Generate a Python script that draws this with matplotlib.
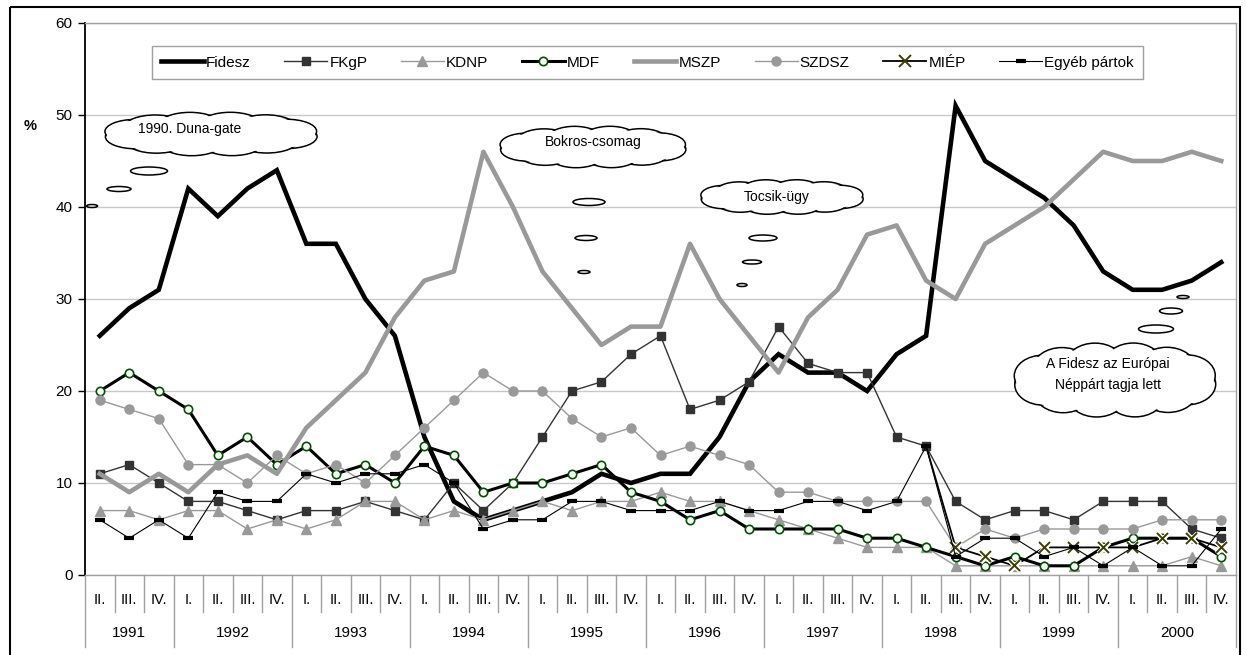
import numpy as np
import matplotlib.pyplot as plt
import matplotlib.patheffects as pe
from matplotlib.patches import Ellipse, Rectangle
from matplotlib.lines import Line2D

plt.rcParams['font.family'] = ['Liberation Sans', 'DejaVu Sans']

# Quarter labels and years (1991 II. - 2000 IV.)
quarters = ['II.', 'III.', 'IV.'] + ['I.', 'II.', 'III.', 'IV.'] * 9
years = ['1991', '1992', '1993', '1994', '1995', '1996', '1997', '1998', '1999', '2000']
year_len = [3, 4, 4, 4, 4, 4, 4, 4, 4, 4]

# Party support, %
fidesz = [26, 29, 31, 42, 39, 42, 44, 36, 36, 30, 26, 15, 8, 6, 7, 8, 9, 11, 10,
          11, 11, 15, 21, 24, 22, 22, 20, 24, 26, 51, 45, 43, 41, 38, 33, 31, 31, 32, 34]
fkgp = [11, 12, 10, 8, 8, 7, 6, 7, 7, 8, 7, 6, 10, 7, 10, 15, 20, 21, 24,
        26, 18, 19, 21, 27, 23, 22, 22, 15, 14, 8, 6, 7, 7, 6, 8, 8, 8, 5, 4]
kdnp = [7, 7, 6, 7, 7, 5, 6, 5, 6, 8, 8, 6, 7, 6, 7, 8, 7, 8, 8,
        9, 8, 8, 7, 6, 5, 4, 3, 3, 3, 1, 1, 1, 1, 1, 1, 1, 1, 2, 1]
mdf = [20, 22, 20, 18, 13, 15, 12, 14, 11, 12, 10, 14, 13, 9, 10, 10, 11, 12, 9,
       8, 6, 7, 5, 5, 5, 5, 4, 4, 3, 2, 1, 2, 1, 1, 3, 4, 4, 4, 2]
mszp = [11, 9, 11, 9, 12, 13, 11, 16, 19, 22, 28, 32, 33, 46, 40, 33, 29, 25, 27,
        27, 36, 30, 26, 22, 28, 31, 37, 38, 32, 30, 36, 38, 40, 43, 46, 45, 45, 46, 45]
szdsz = [19, 18, 17, 12, 12, 10, 13, 11, 12, 10, 13, 16, 19, 22, 20, 20, 17, 15, 16,
         13, 14, 13, 12, 9, 9, 8, 8, 8, 8, 3, 5, 4, 5, 5, 5, 5, 6, 6, 6]
miep_start = 28  # MIÉP measured separately from 1998 II.
miep = [14, 3, 2, 1, 3, 3, 3, 3, 4, 4, 3]
egyeb = [6, 4, 6, 4, 9, 8, 8, 11, 10, 11, 11, 12, 10, 5, 6, 6, 8, 8, 7,
         7, 7, 8, 7, 7, 8, 8, 7, 8, 14, 2, 4, 4, 2, 3, 1, 3, 1, 1, 5]

W, H = 1246, 655
fig = plt.figure(figsize=(W / 100, H / 100), dpi=100)
ax = fig.add_axes([85 / W, 80 / H, 1151 / W, 552 / H])

x = np.arange(len(quarters))
mx = np.arange(miep_start, miep_start + len(miep))

ax.plot(x, fidesz, color='black', lw=3.3, zorder=3, solid_joinstyle='miter')
ax.plot(x, fkgp, color='#333333', lw=1, marker='s', ms=6, mfc='#333333', mec='#333333', zorder=4)
ax.plot(x, kdnp, color='#999999', lw=1, marker='^', ms=6.5, mfc='#999999', mec='#999999', zorder=4)
ax.plot(x, mdf, color='black', lw=2.2, marker='o', ms=6, mfc='white', mec='#005000', mew=1.2, zorder=5)
ax.plot(x, mszp, color='#999999', lw=3.3, zorder=5)
ax.plot(x, szdsz, color='#999999', lw=1, marker='o', ms=6.5, mfc='#999999', mec='#999999', zorder=6)
halo = [pe.Stroke(linewidth=3.5, foreground='white'), pe.Normal()]
ax.plot(mx, miep, color='black', lw=1.3, zorder=7)
ax.plot(mx[1:], miep[1:], ls='none', marker='x', ms=8, mew=1.4, mec='#3d3d00', zorder=8, path_effects=halo)
ax.plot(x, egyeb, color='black', lw=0.8, marker='_', ms=7, mew=3, mec='black', zorder=9)

ax.set_xlim(-0.5, len(quarters) - 0.5)
ax.set_ylim(0, 60)
ax.set_yticks(range(0, 61, 10))
ax.set_xticks([])
ax.yaxis.grid(True, color='#c8c8c8', lw=1)
ax.set_axisbelow(True)
ax.tick_params(axis='y', direction='out', length=5, width=1, labelsize=11, pad=4)
ax.spines['left'].set_color('black')
ax.spines['left'].set_linewidth(1.3)
for s in ['top', 'right', 'bottom']:
    ax.spines[s].set_color('#a0a0a0')
    ax.spines[s].set_linewidth(1)

# two-level category axis
tr = ax.get_xaxis_transform()
for i, q in enumerate(quarters):
    ax.text(i, -0.045, q, transform=tr, ha='center', va='center', fontsize=10.5,
            family=['Liberation Sans Narrow', 'Liberation Sans'])
bounds = np.concatenate([[-0.5], np.cumsum(year_len) - 0.5])
for b in np.arange(0.5, len(quarters) - 1):
    if b not in bounds:
        ax.plot([b, b], [0, -0.067], transform=tr, color='#a0a0a0', lw=1, clip_on=False)
for b in bounds:
    ax.plot([b, b], [0, -0.13], transform=tr, color='#a0a0a0', lw=1, clip_on=False)
for k, yr in enumerate(years):
    ax.text((bounds[k] + bounds[k + 1]) / 2, -0.105, yr, transform=tr,
            ha='center', va='center', fontsize=11)

# legend
names = ['Fidesz', 'FKgP', 'KDNP', 'MDF', 'MSZP', 'SZDSZ', 'MIÉP', 'Egyéb pártok']
handles = ax.get_lines()[:6] + [
    Line2D([], [], color='black', lw=1.3, marker='x', ms=8, mew=1.4, mec='#3d3d00'),
    ax.get_lines()[8]]
leg = ax.legend(handles, names, loc='center', bbox_to_anchor=(0.4887, 0.9284), ncol=8,
                fancybox=False, edgecolor='#a0a0a0', fontsize=11, handlelength=2.8,
                handletextpad=0.15, columnspacing=2.2, borderpad=0.6, framealpha=1)
leg.get_frame().set_linewidth(1)

# overlay in pixel coordinates for clouds and frame
ov = fig.add_axes([0, 0, 1, 1])
ov.set_xlim(0, W)
ov.set_ylim(H, 0)
ov.axis('off')
ov.patch.set_alpha(0)


def cloud(cx, cy, w, h, n=12):
    ang = np.linspace(0, 2 * np.pi, n, endpoint=False) + 0.25
    bw, bh = w * 0.28, h * 0.55
    px = cx + (w - bw) / 2 * np.cos(ang)
    py = cy + (h - bh) / 2 * np.sin(ang)
    for a, b in zip(px, py):
        ov.add_patch(Ellipse((a, b), bw, bh, fc='white', ec='black', lw=1.1, zorder=5))
    for a, b in zip(px, py):
        ov.add_patch(Ellipse((a, b), bw - 2.6, bh - 2.6, fc='white', ec='none', zorder=6))
    ov.add_patch(Ellipse((cx, cy), w - bw * 0.6, h - bh * 0.6, fc='white', ec='none', zorder=6))


def bubbles(items):
    for a, b, w, h in items:
        ov.add_patch(Ellipse((a, b), w, h, fc='white', ec='black', lw=1.1, zorder=5))


cloud(211, 134, 217, 44)
ov.text(190, 129, '1990. Duna-gate', ha='center', va='center', fontsize=10, zorder=7)
bubbles([(149, 171, 37, 8), (119, 189, 24, 5), (92, 206, 11, 3)])

cloud(593, 147, 190, 42)
ov.text(593, 142, 'Bokros-csomag', ha='center', va='center', fontsize=10, zorder=7)
bubbles([(589, 202, 32, 7), (586, 238, 22, 5), (584, 272, 12, 3)])

cloud(782, 197, 166, 35)
ov.text(777, 197, 'Tocsik-ügy', ha='center', va='center', fontsize=10, zorder=7)
bubbles([(763, 238, 28, 6), (752, 262, 19, 4), (742, 285, 10, 3)])

cloud(1115, 380, 206, 75)
ov.text(1108, 364, 'A Fidesz az Európai', ha='center', va='center', fontsize=10, zorder=7)
ov.text(1108, 385, 'Néppárt tagja lett', ha='center', va='center', fontsize=10, zorder=7)
bubbles([(1156, 329, 35, 8), (1171, 311, 23, 6), (1183, 297, 12, 3)])

ov.text(30, 126, '%', ha='center', va='center', fontsize=10.5, fontweight='bold')
ov.add_patch(Rectangle((10, 7), 1230, 700, fc='none', ec='black', lw=1.5))

fig.savefig('out.png', dpi=100)
